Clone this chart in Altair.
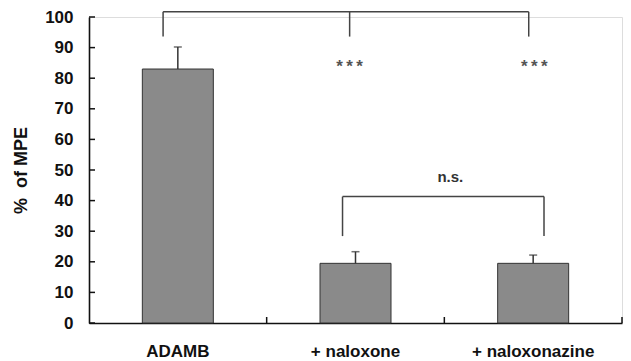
import altair as alt
import pandas as pd

# --- data ---
groups = ["ADAMB", "+ naloxone", "+ naloxonazine"]
means = [83.0, 19.5, 19.5]
sems = [7.2, 3.8, 2.7]

y_ticks = [0, 10, 20, 30, 40, 50, 60, 70, 80, 90, 100]
x_ticks = [1, 2, 3]  # band boundaries on a 0..3 position scale

# comparison brackets (position scale 0..3, value scale %)
top_legs_x = [0.417, 1.467, 2.475]
top_leg_low, top_leg_high = 93.6, 101.7
ns_legs_x = [1.427, 2.561]
ns_leg_low, ns_leg_high = 28.4, 41.3

star_x = [1.467, 2.507]
star_y = [83.7, 83.7]
star_txt = ["*\u2009*\u2009*", "*\u2009*\u2009*"]
ns_x, ns_y, ns_txt = [2.034], [47.8], ["n.s."]

W, H = 533, 306
FONT = "Liberation Sans"

bars_df = pd.DataFrame({"g": groups, "m": means,
                        "hi": [m + s for m, s in zip(means, sems)]})

yscale = alt.Scale(domain=[0, 100], nice=False)
xband = alt.Scale(domain=groups, paddingInner=0, paddingOuter=0)
xq = alt.Scale(domain=[0, 3], nice=False, zero=False)

yaxis = alt.Axis(values=y_ticks, ticks=False, grid=False,
                 labelOverlap=False,
                 labelFont=FONT, labelFontSize=17,
                 labelFontWeight="bold", labelColor="#111111",
                 labelPadding=16, domainColor="#111111",
                 domainWidth=1.6, title="%\u00a0\u00a0of MPE",
                 titleFont=FONT, titleFontSize=18,
                 titleFontWeight="bold", titleColor="#111111",
                 titleX=-68, titleY=H / 2, titleBaseline="middle",
                 titleAngle=-90)


def Y(field):
    return alt.Y(field, scale=yscale, axis=yaxis)


bars = alt.Chart(bars_df).mark_bar(
    width=71, fill="#8a8a8a", stroke="#333333", strokeWidth=1
).encode(
    x=alt.X("g:N", scale=xband, sort=groups, title=None,
            axis=alt.Axis(labelAngle=0, ticks=False, labelFont=FONT,
                          labelFontSize=17, labelFontWeight="bold",
                          labelColor="#111111", labelPadding=20,
                          domainColor="#111111", domainWidth=1.6)),
    y=Y("m:Q"),
)

stems = alt.Chart(bars_df).mark_rule(color="#333333", strokeWidth=1.5).encode(
    x=alt.X("g:N", scale=xband, sort=groups, axis=None),
    y=Y("m:Q"), y2="hi:Q")
caps = alt.Chart(bars_df).mark_tick(color="#333333", thickness=1.5, size=8).encode(
    x=alt.X("g:N", scale=xband, sort=groups, axis=None),
    y=Y("hi:Q"))

# manual inward ticks
yt = alt.Chart(pd.DataFrame({"v": y_ticks})).mark_rule(
    color="#111111", strokeWidth=1.5).encode(
    y=Y("v:Q"), x=alt.value(0), x2=alt.value(6))
xt = alt.Chart(pd.DataFrame({"p": x_ticks})).mark_rule(
    color="#111111", strokeWidth=1.5).encode(
    x=alt.X("p:Q", scale=xq, axis=None), y=alt.value(H), y2=alt.value(H - 6))

bcol = "#444444"
top_legs = alt.Chart(pd.DataFrame({"p": top_legs_x, "lo": top_leg_low, "hi": top_leg_high})
                     ).mark_rule(color=bcol, strokeWidth=1.5).encode(
    x=alt.X("p:Q", scale=xq, axis=None), y=Y("lo:Q"), y2="hi:Q")
top_bar = alt.Chart(pd.DataFrame({"a": [top_legs_x[0]], "b": [top_legs_x[-1]], "y": [top_leg_high]})
                    ).mark_rule(color=bcol, strokeWidth=1.5).encode(
    x=alt.X("a:Q", scale=xq, axis=None), x2="b:Q", y=Y("y:Q"))
ns_legs = alt.Chart(pd.DataFrame({"p": ns_legs_x, "lo": ns_leg_low, "hi": ns_leg_high})
                    ).mark_rule(color=bcol, strokeWidth=1.5).encode(
    x=alt.X("p:Q", scale=xq, axis=None), y=Y("lo:Q"), y2="hi:Q")
ns_bar = alt.Chart(pd.DataFrame({"a": [ns_legs_x[0]], "b": [ns_legs_x[-1]], "y": [ns_leg_high]})
                   ).mark_rule(color=bcol, strokeWidth=1.5).encode(
    x=alt.X("a:Q", scale=xq, axis=None), x2="b:Q", y=Y("y:Q"))

stars = alt.Chart(pd.DataFrame({"p": star_x, "y": star_y, "t": star_txt})).mark_text(
    font=FONT, fontSize=17, fontWeight="bold", color="#555555").encode(
    x=alt.X("p:Q", scale=xq, axis=None), y=Y("y:Q"), text="t:N")
ns = alt.Chart(pd.DataFrame({"p": ns_x, "y": ns_y, "t": ns_txt})).mark_text(
    font=FONT, fontSize=15, fontWeight="bold", color="#333333").encode(
    x=alt.X("p:Q", scale=xq, axis=None), y=Y("y:Q"), text="t:N")

chart = alt.layer(
    bars, stems, caps, yt, xt, top_legs, top_bar, ns_legs, ns_bar, stars, ns
).resolve_scale(x="independent").properties(
    width=W, height=H,
    autosize=alt.AutoSizeParams(type="none"),
    padding={"left": 81, "top": 9, "right": 1, "bottom": 38},
).configure_view(stroke=None).configure(background="white")

chart.save("out.html", embed_options={"renderer": "svg", "actions": False})
